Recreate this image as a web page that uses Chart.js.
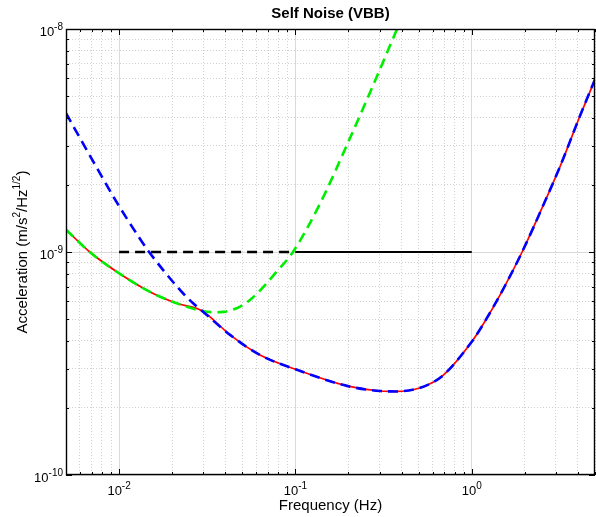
<!DOCTYPE html>
<html><head><meta charset="utf-8">
<script src="https://cdn.jsdelivr.net/npm/chart.js@4/dist/chart.umd.min.js"></script>
<style>html,body{margin:0;padding:0;background:#fff;}#wrap{width:596px;height:517px;position:relative;}</style>
</head><body>
<div id="wrap"><canvas id="c" width="596" height="517"></canvas></div>
<script>
// ---- data (frequency in Hz, acceleration in m/s^2/Hz^1/2) ----
const totalFreq = [0.005, 0.00682, 0.0099, 0.0149, 0.0212, 0.0296, 0.0426, 0.063, 0.1, 0.196, 0.303, 0.376, 0.5, 0.6, 0.693, 1.0, 1.17, 1.49, 1.93, 2.57, 3.19, 4.06, 5.0];
const totalVal  = [1.26e-9, 1.0e-9, 8.07e-10, 6.64e-10, 5.89e-10, 5.44e-10, 4.25e-10, 3.45e-10, 2.98e-10, 2.51e-10, 2.38e-10, 2.37e-10, 2.45e-10, 2.6e-10, 2.81e-10, 3.96e-10, 4.79e-10, 6.7e-10, 1.0e-9, 1.65e-9, 2.45e-9, 3.98e-9, 5.94e-9];

const hfFreq = [0.005, 0.00697, 0.00966, 0.0131, 0.0148, 0.0226, 0.0263, 0.0296, 0.0426, 0.063, 0.1, 0.196, 0.303, 0.376, 0.5, 0.6, 0.693, 1.0, 1.17, 1.49, 1.93, 2.57, 3.19, 4.06, 5.0];
const hfVal  = [4.19e-9, 2.63e-9, 1.68e-9, 1.15e-9, 1.0e-9, 6.64e-10, 5.89e-10, 5.44e-10, 4.25e-10, 3.45e-10, 2.98e-10, 2.51e-10, 2.38e-10, 2.37e-10, 2.45e-10, 2.6e-10, 2.81e-10, 3.96e-10, 4.79e-10, 6.7e-10, 1.0e-9, 1.65e-9, 2.45e-9, 3.98e-9, 5.94e-9];

const lfFreq = [0.005, 0.00682, 0.0099, 0.0149, 0.0212, 0.0296, 0.035, 0.039, 0.0486, 0.0565, 0.0673, 0.0767, 0.0968, 0.138, 0.196, 0.284, 0.377];
const lfVal  = [1.26e-9, 1.0e-9, 8.07e-10, 6.64e-10, 5.89e-10, 5.44e-10, 5.37e-10, 5.39e-10, 5.69e-10, 6.19e-10, 7.11e-10, 8.02e-10, 1.0e-9, 1.65e-9, 3.02e-9, 5.9e-9, 1.0e-8];

const reqDashFreq = [0.01, 0.1];
const reqDashVal  = [1e-9, 1e-9];
const reqSolidFreq = [0.1, 1.0];
const reqSolidVal  = [1e-9, 1e-9];

const xMajorTicks = [0.01, 0.1, 1];
const xTickExp    = ['-2', '-1', '0'];
const yMajorTicks = [1e-10, 1e-9, 1e-8];
const yTickExp    = ['-10', '-9', '-8'];
const tickBase    = '10';

const titleText = 'Self Noise (VBB)';
const xTitle = 'Frequency (Hz)';
// y title pieces: [text, isSuperscript]
const yTitleParts = [['Acceleration (m/s', false], ['2', true], ['/Hz', false], ['1/2', true], [')', false]];

// ---- helpers ----
const pts = (f, v) => f.map((x, i) => ({x: x, y: v[i]}));
const isMajor = v => Math.abs(Math.log10(v) - Math.round(Math.log10(v))) < 1e-6;
function logTicks(min, max) {
  const out = [];
  for (let e = Math.floor(Math.log10(min)) - 1; e <= Math.ceil(Math.log10(max)); e++) {
    for (let m = 1; m <= 9; m++) {
      const v = Number((m * Math.pow(10, e)).toPrecision(12));
      if (v >= min * (1 - 1e-9) && v <= max * (1 + 1e-9)) out.push({value: v});
    }
  }
  return out;
}
const gridColor = c => (c.tick && isMajor(c.tick.value)) ? '#dadada' : '#d0d0d0';
const gridDash  = c => (c.tick && isMajor(c.tick.value)) ? [] : [1, 2];

const font = 'Liberation Sans, Arial, Helvetica, sans-serif';

function drawPow(ctx, base, exp, x, baseline, align) {
  ctx.font = '13px ' + font; const wb = ctx.measureText(base).width;
  ctx.font = '10px ' + font; const we = ctx.measureText(exp).width;
  const w = wb + we;
  const x0 = align === 'center' ? x - w / 2 : (align === 'right' ? x - w : x);
  ctx.textAlign = 'left'; ctx.textBaseline = 'alphabetic'; ctx.fillStyle = '#000';
  ctx.font = '13px ' + font; ctx.fillText(base, x0, baseline);
  ctx.font = '10px ' + font; ctx.fillText(exp, x0 + wb, baseline - 5.5);
}

const framePlugin = {
  id: 'frame',
  afterDraw(chart) {
    const {ctx, chartArea: a, scales} = chart;
    const x = scales.x, y = scales.y;
    ctx.save();
    ctx.strokeStyle = '#000';
    ctx.lineWidth = 1;
    ctx.beginPath();
    x.ticks.forEach(t => {
      const px = Math.round(x.getPixelForValue(t.value)) + 0.5;
      const L = isMajor(t.value) ? 6 : 3;
      ctx.moveTo(px, a.bottom); ctx.lineTo(px, a.bottom - L);
      ctx.moveTo(px, a.top); ctx.lineTo(px, a.top + L);
    });
    y.ticks.forEach(t => {
      const py = Math.round(y.getPixelForValue(t.value)) + 0.5;
      const L = isMajor(t.value) ? 6 : 3;
      ctx.moveTo(a.left, py); ctx.lineTo(a.left + L, py);
      ctx.moveTo(a.right, py); ctx.lineTo(a.right - L, py);
    });
    ctx.stroke();
    ctx.lineWidth = 1.4;
    ctx.strokeRect(a.left + 0.5, a.top + 0.5, a.right - a.left - 1, a.bottom - a.top - 1);

    // tick labels (10 with superscript exponent)
    xMajorTicks.forEach((v, i) => drawPow(ctx, tickBase, xTickExp[i], x.getPixelForValue(v), a.bottom + 19.5, 'center'));
    yMajorTicks.forEach((v, i) => drawPow(ctx, tickBase, yTickExp[i], a.left - 3, y.getPixelForValue(v) + 6.5, 'right'));

    // y axis title with superscripts
    const sizes = yTitleParts.map(p => p[1] ? 10 : 15);
    let total = 0;
    const widths = yTitleParts.map((p, i) => { ctx.font = sizes[i] + 'px ' + font; const w = ctx.measureText(p[0]).width; total += w; return w; });
    ctx.translate(26.5, (a.top + a.bottom) / 2);
    ctx.rotate(-Math.PI / 2);
    ctx.textAlign = 'left'; ctx.textBaseline = 'alphabetic'; ctx.fillStyle = '#000';
    let cx = -total / 2;
    yTitleParts.forEach((p, i) => {
      ctx.font = sizes[i] + 'px ' + font;
      ctx.fillText(p[0], cx, p[1] ? -6.5 : 0);
      cx += widths[i];
    });
    ctx.restore();
  }
};

new Chart(document.getElementById('c'), {
  type: 'line',
  data: {
    datasets: [
      {data: pts(hfFreq, hfVal), borderColor: '#0000ff', borderWidth: 2.6, borderDash: [10, 6], cubicInterpolationMode: 'monotone'},
      {data: pts(lfFreq, lfVal), borderColor: '#00ee00', borderWidth: 2.6, borderDash: [10, 6], cubicInterpolationMode: 'monotone'},
      {data: pts(totalFreq, totalVal), borderColor: '#ff0000', borderWidth: 1.7, cubicInterpolationMode: 'monotone'},
      {data: pts(reqDashFreq, reqDashVal), borderColor: '#000000', borderWidth: 2.6, borderDash: [10, 6]},
      {data: pts(reqSolidFreq, reqSolidVal), borderColor: '#000000', borderWidth: 2.2}
    ]
  },
  options: {
    responsive: false,
    animation: false,
    devicePixelRatio: 1,
    layout: {padding: {left: 0, right: 1, top: 0, bottom: 0}},
    elements: {point: {radius: 0, hoverRadius: 0}, line: {fill: false, borderCapStyle: 'butt'}},
    plugins: {
      legend: {display: false},
      tooltip: {enabled: false},
      title: {
        display: true, text: titleText, fullSize: false, color: '#000',
        font: {family: font, size: 15, weight: 'bold'},
        padding: {top: 5, bottom: 6}
      }
    },
    scales: {
      x: {
        type: 'logarithmic', min: 0.005, max: 5,
        afterBuildTicks: s => { s.ticks = logTicks(0.005, 5); },
        afterFit: s => { s.height = 42; },
        grid: {color: gridColor, lineWidth: 1, drawTicks: false},
        border: {display: false, dash: gridDash},
        ticks: {display: false, autoSkip: false},
        title: {display: true, text: xTitle, color: '#000', font: {family: font, size: 15}, padding: {top: 0, bottom: 2}}
      },
      y: {
        type: 'logarithmic', min: 1e-10, max: 1e-8,
        afterBuildTicks: s => { s.ticks = logTicks(1e-10, 1e-8); },
        afterFit: s => { s.width = 66; },
        grid: {color: gridColor, lineWidth: 1, drawTicks: false},
        border: {display: false, dash: gridDash},
        ticks: {display: false, autoSkip: false}
      }
    }
  },
  plugins: [framePlugin]
});
</script>
</body></html>
